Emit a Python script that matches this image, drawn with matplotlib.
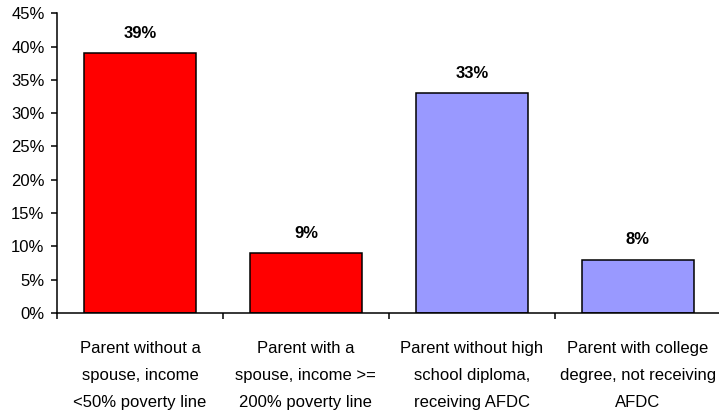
import matplotlib.pyplot as plt
from matplotlib.ticker import FixedLocator, FuncFormatter

# dados
categorias = [
    "Parent without a\nspouse, income\n<50% poverty line",
    "Parent with a\nspouse, income >=\n200% poverty line",
    "Parent without high\nschool diploma,\nreceiving AFDC",
    "Parent with college\ndegree, not receiving\nAFDC",
]
valores = [39, 9, 33, 8]
cores = ["#ff0000", "#ff0000", "#9999ff", "#9999ff"]
y_ticks = [0, 5, 10, 15, 20, 25, 30, 35, 40, 45]

plt.rcParams["font.family"] = ["Liberation Sans", "DejaVu Sans"]

fig = plt.figure(figsize=(7.19, 4.12), dpi=100)
ax = fig.add_axes([0.0793, 0.240, 0.923, 0.728])

x = list(range(len(valores)))
barras = ax.bar(x, valores, width=0.675, color=cores, edgecolor="black", linewidth=1.1)

# rotulos acima das barras
for xi, v in zip(x, valores):
    ax.annotate(f"{v}%", (xi, v), xytext=(0, 9), textcoords="offset points",
                ha="center", va="bottom", fontsize=12, fontweight="bold")

ax.set_xlim(-0.5, len(valores) - 0.5)
ax.set_ylim(0, 45)
ax.set_yticks(y_ticks)
ax.yaxis.set_major_formatter(FuncFormatter(lambda v, p: f"{v:.0f}%"))

# ticks nas divisões, rotulos centralizados
ax.xaxis.set_major_locator(FixedLocator([i - 0.5 for i in range(len(valores) + 1)]))
ax.xaxis.set_major_formatter(FuncFormatter(lambda v, p: ""))
ax.xaxis.set_minor_locator(FixedLocator(x))
ax.set_xticklabels(categorias, minor=True)
ax.tick_params(axis="x", which="minor", length=0, pad=20, labelsize=12)
ax.tick_params(axis="x", which="major", length=4, width=1.1, direction="out")
ax.tick_params(axis="y", length=4, width=1.1, labelsize=12, pad=5)
for lbl in ax.get_xticklabels(minor=True):
    lbl.set_linespacing(2.0)

ax.spines["top"].set_visible(False)
ax.spines["right"].set_visible(False)
ax.spines["left"].set_linewidth(1.1)
ax.spines["bottom"].set_linewidth(1.1)

fig.savefig("out.png", dpi=100)
plt.close(fig)
